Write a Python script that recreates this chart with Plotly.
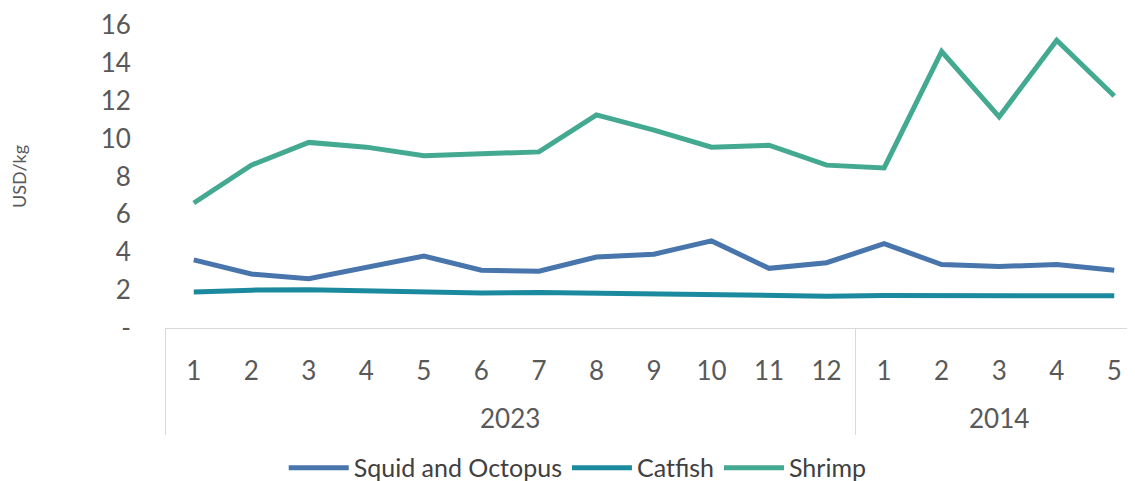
import plotly.graph_objects as go

years = ["2023"] * 12 + ["2014"] * 5
months = [str(m) for m in range(1, 13)] + [str(m) for m in range(1, 6)]

squid = [3.6, 2.85, 2.6, 3.2, 3.8, 3.05, 3.0, 3.75, 3.9, 4.6, 3.15, 3.45,
         4.45, 3.35, 3.25, 3.35, 3.05]
catfish = [1.9, 2.0, 2.02, 1.95, 1.92, 1.85, 1.88, 1.85, 1.8, 1.75, 1.72, 1.68,
           1.72, 1.7, 1.72, 1.72, 1.7]
shrimp = [6.6, 8.6, 9.8, 9.55, 9.1, 9.2, 9.3, 11.25, 10.45, 9.55, 9.65, 8.6,
          8.45, 14.6, 11.15, 15.2, 12.25]

font = "Lato, Open Sans, sans-serif"

# empty first line pushes the year labels further down, like the Excel chart
year_labels = ["<br>" + y for y in years]

fig = go.Figure()
for name, vals, col in [("Squid and Octopus", squid, "#4775ac"),
                        ("Catfish", catfish, "#1b8a9f"),
                        ("Shrimp", shrimp, "#44a991")]:
    fig.add_trace(go.Scatter(x=[year_labels, months], y=vals, name=name, mode="lines",
                             line=dict(color=col, width=5)))

# page body has an 8px margin; the plot runs slightly past the right edge like the original
fig.update_layout(
    width=1135, height=473,
    margin=dict(l=157, r=0, t=17, b=153),
    plot_bgcolor="white", paper_bgcolor="white",
    font=dict(family=font, color="#595959"),
    legend=dict(orientation="h", x=0.422, xanchor="center", yref="container",
                y=0.0275, yanchor="middle",
                font=dict(size=25, color="#404040"), itemwidth=60),
)
fig.update_xaxes(range=[-0.5, 16.5], showline=True, linecolor="#d9d9d9", linewidth=1,
                 showgrid=False, showdividers=True, dividercolor="#d9d9d9",
                 tickfont=dict(size=26), ticks="", ticklabelstandoff=20,
                 automargin=False)
fig.update_yaxes(range=[0, 16], tickvals=list(range(0, 17, 2)),
                 ticktext=["-"] + [str(v) for v in range(2, 17, 2)],
                 showgrid=False, zeroline=False, tickfont=dict(size=26),
                 ticks="outside", ticklen=28, tickcolor="rgba(0,0,0,0)",
                 automargin=False,
                 title=dict(text="USD/kg", font=dict(size=18, color="#595959"), standoff=75))

fig.write_html("out.html")
